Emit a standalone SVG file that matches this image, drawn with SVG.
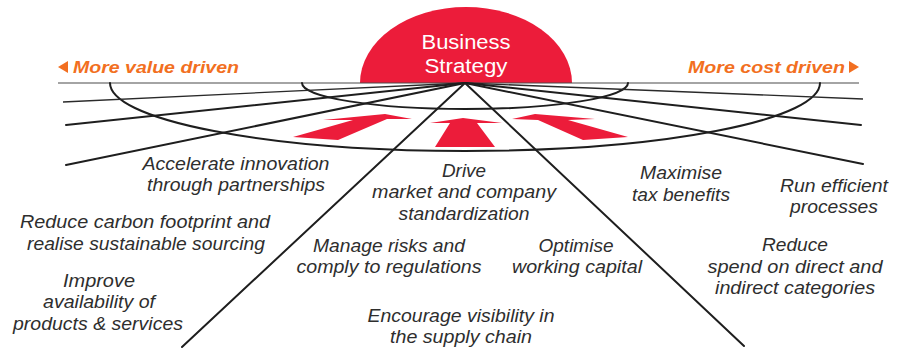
<svg xmlns="http://www.w3.org/2000/svg" width="904" height="349" viewBox="0 0 904 349">
<style>
.bg{fill:#ffffff}
.ln{fill:none;stroke:#1e1e1e;stroke-width:2;stroke-linecap:round}
.thin{fill:none;stroke:#2a2a2a;stroke-width:1.3}
.hz{fill:none;stroke:#4a4a4a;stroke-width:1.2}
.red{fill:#ec1c3a}
.orange{fill:#f26f21}
.lbl{font-family:"Liberation Sans",Arial,sans-serif;font-style:italic;font-size:17.5px;fill:#2e2e2e;text-anchor:middle}
.dir{font-family:"Liberation Sans",Arial,sans-serif;font-style:italic;font-weight:bold;font-size:17px;fill:#f26f21}
.core{font-family:"Liberation Sans",Arial,sans-serif;font-size:20.5px;fill:#ffffff;text-anchor:middle}
</style>
<rect class="bg" x="0" y="0" width="904" height="349"/>
<g id="strategy">
<path class="red" d="M360,83 A106,76 0 0 1 572,83 Z"/>
<text class="core" x="466" y="48.5" textLength="89" lengthAdjust="spacingAndGlyphs">Business</text>
<text class="core" x="466" y="72.5" textLength="83" lengthAdjust="spacingAndGlyphs">Strategy</text>
</g>
<g id="connectors">
<line class="hz" x1="58" y1="83" x2="859" y2="83"/>
<path class="ln" d="M302,83 A163,26 0 0 0 628,83"/>
<path class="ln" d="M110,83 A355,68 0 0 0 820,83"/>
<line class="thin" x1="465" y1="83" x2="63" y2="102"/>
<line class="ln" x1="465" y1="83" x2="66" y2="125"/>
<line class="ln" x1="465" y1="83" x2="66" y2="165"/>
<line class="thin" x1="465" y1="83" x2="863" y2="99"/>
<line class="ln" x1="465" y1="83" x2="861" y2="125"/>
<line class="ln" x1="465" y1="83" x2="863" y2="164"/>
<line class="ln" x1="465" y1="83" x2="182" y2="347"/>
<line class="ln" x1="465" y1="83" x2="744" y2="346"/>
</g>
<g id="arrows">
<polygon class="red" points="293,137 353,120 323,120 385,114 412,119 387,119 338,140"/>
<polygon class="red" points="463,118 502,123 477,123 495,147 435,147 450,123 430,123"/>
<polygon class="red" points="512,119 535,114 595,119 568,120 628,137 583,140 538,120"/>
</g>
<g id="value-driven">
<polygon class="orange" points="68,61 68,73 58,67"/>
<text class="dir" x="73" y="73" textLength="166" lengthAdjust="spacingAndGlyphs">More value driven</text>
</g>
<g id="cost-driven">
<polygon class="orange" points="849,61 849,73 859,67"/>
<text class="dir" x="688" y="73" textLength="157" lengthAdjust="spacingAndGlyphs">More cost driven</text>
</g>
<g id="innovation">
<text class="lbl" x="236" y="170" textLength="187" lengthAdjust="spacingAndGlyphs">Accelerate innovation</text>
<text class="lbl" x="236" y="191" textLength="178" lengthAdjust="spacingAndGlyphs">through partnerships</text>
</g>
<g id="carbon">
<text class="lbl" x="145" y="228" textLength="250" lengthAdjust="spacingAndGlyphs">Reduce carbon footprint and</text>
<text class="lbl" x="146" y="250" textLength="238" lengthAdjust="spacingAndGlyphs">realise sustainable sourcing</text>
</g>
<g id="availability">
<text class="lbl" x="99" y="287" textLength="72" lengthAdjust="spacingAndGlyphs">Improve</text>
<text class="lbl" x="99" y="308" textLength="112" lengthAdjust="spacingAndGlyphs">availability of</text>
<text class="lbl" x="98" y="330" textLength="170" lengthAdjust="spacingAndGlyphs">products &amp; services</text>
</g>
<g id="standardization">
<text class="lbl" x="464" y="177" textLength="44" lengthAdjust="spacingAndGlyphs">Drive</text>
<text class="lbl" x="464" y="198" textLength="184" lengthAdjust="spacingAndGlyphs">market and company</text>
<text class="lbl" x="464" y="220" textLength="131" lengthAdjust="spacingAndGlyphs">standardization</text>
</g>
<g id="risks">
<text class="lbl" x="389" y="252" textLength="152" lengthAdjust="spacingAndGlyphs">Manage risks and</text>
<text class="lbl" x="389" y="273" textLength="185" lengthAdjust="spacingAndGlyphs">comply to regulations</text>
</g>
<g id="capital">
<text class="lbl" x="576" y="252" textLength="75" lengthAdjust="spacingAndGlyphs">Optimise</text>
<text class="lbl" x="577" y="273" textLength="130" lengthAdjust="spacingAndGlyphs">working capital</text>
</g>
<g id="visibility">
<text class="lbl" x="461" y="322" textLength="187" lengthAdjust="spacingAndGlyphs">Encourage visibility in</text>
<text class="lbl" x="461" y="343" textLength="142" lengthAdjust="spacingAndGlyphs">the supply chain</text>
</g>
<g id="tax">
<text class="lbl" x="681" y="179" textLength="82" lengthAdjust="spacingAndGlyphs">Maximise</text>
<text class="lbl" x="681" y="201" textLength="98" lengthAdjust="spacingAndGlyphs">tax benefits</text>
</g>
<g id="processes">
<text class="lbl" x="834" y="192" textLength="108" lengthAdjust="spacingAndGlyphs">Run efficient</text>
<text class="lbl" x="834" y="213" textLength="88" lengthAdjust="spacingAndGlyphs">processes</text>
</g>
<g id="spend">
<text class="lbl" x="795" y="251" textLength="66" lengthAdjust="spacingAndGlyphs">Reduce</text>
<text class="lbl" x="795" y="273" textLength="175" lengthAdjust="spacingAndGlyphs">spend on direct and</text>
<text class="lbl" x="795" y="294" textLength="160" lengthAdjust="spacingAndGlyphs">indirect categories</text>
</g>
</svg>
